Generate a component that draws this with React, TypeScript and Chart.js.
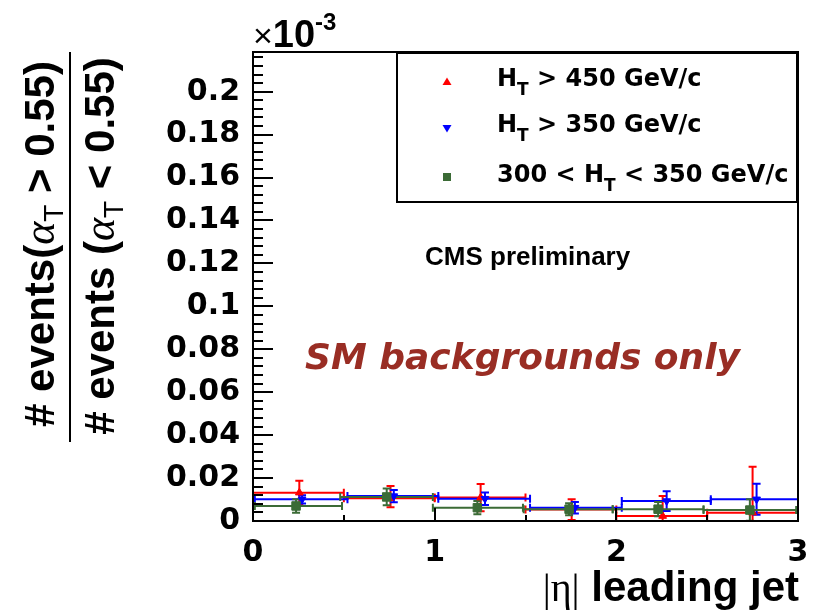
import React, { useEffect, useRef } from "react";
import { Chart, registerables } from "chart.js";

Chart.register(...registerables);

// ---------- data ----------
const xTickValues = [0, 1, 2, 3];
const yTickValues = [0, 0.02, 0.04, 0.06, 0.08, 0.1, 0.12, 0.14, 0.16, 0.18, 0.2];
const xMinorTicks = [0.5, 1, 1.5, 2, 2.5];
const yMinorStep = 0.004;
const yMax = 0.2185;

const legendLabels = ["H_T > 450 GeV/c", "H_T > 350 GeV/c", "300 < H_T < 350 GeV/c"];

// H_T > 450 GeV/c (red, up triangles)
const redX = [0.255, 0.757, 1.253, 1.754, 2.255, 2.75];
const redXLow = [0.0, 0.5, 1.0, 1.5, 2.0, 2.5];
const redXHigh = [0.5, 1.0, 1.5, 2.0, 2.5, 3.0];
const redY = [0.0132, 0.0106, 0.0109, 0.0053, 0.0023, 0.0039];
const redErrUp = [0.0056, 0.0057, 0.0063, 0.0048, 0.0093, 0.0214];
const redErrDown = [0.0056, 0.0042, 0.0063, 0.0048, 0.0023, 0.0039];

// H_T > 350 GeV/c (blue, down triangles)
const blueX = [0.27, 0.775, 1.277, 1.772, 2.277, 2.772];
const blueXLow = [0.01, 0.52, 1.02, 1.525, 2.03, 2.52];
const blueXHigh = [0.52, 1.02, 1.525, 2.03, 2.52, 3.0];
const blueY = [0.0101, 0.0116, 0.0104, 0.0062, 0.0093, 0.0101];
const blueErr = [0.0019, 0.0029, 0.0029, 0.0027, 0.0046, 0.0072];

// 300 < H_T < 350 GeV/c (green, squares)
const greenX = [0.237, 0.736, 1.235, 1.74, 2.23, 2.735];
const greenXLow = [0.01, 0.48, 0.99, 1.49, 1.98, 2.48];
const greenXHigh = [0.49, 0.99, 1.486, 1.98, 2.48, 2.99];
const greenY = [0.007, 0.0112, 0.0062, 0.0055, 0.0055, 0.0051];
const greenErr = [0.0031, 0.0039, 0.0031, 0.0028, 0.0033, 0.005];

const RED = "#ff0000";
const BLUE = "#0000ff";
const GREEN = "#3b6b36";

const ARIAL = "'Liberation Sans', Arial, Helvetica, sans-serif";
const DEJAVU = "'DejaVu Sans', sans-serif";
const SERIF = "'Liberation Serif', 'Times New Roman', serif";

function mk(xs: number[], lo: number[], hi: number[], ys: number[], up: number[], down: number[]) {
  return xs.map((x, i) => ({ x, y: ys[i], xLow: lo[i], xHigh: hi[i], up: up[i], down: down[i] }));
}

type Seg = { t: string; font: string; dy?: number };
function drawRich(ctx: CanvasRenderingContext2D, segs: Seg[], x: number, y: number, align: "left" | "center" | "right") {
  ctx.textAlign = "left";
  ctx.textBaseline = "alphabetic";
  let total = 0;
  const ws = segs.map((s) => {
    ctx.font = s.font;
    const w = ctx.measureText(s.t).width;
    total += w;
    return w;
  });
  let cx = align === "left" ? x : align === "center" ? x - total / 2 : x - total;
  segs.forEach((s, i) => {
    ctx.font = s.font;
    ctx.fillText(s.t, cx, y + (s.dy || 0));
    cx += ws[i];
  });
}

function hSegs(label: string, size: number, subSize: number, subDy: number): Seg[] {
  const parts = label.split("_T");
  const main = `bold ${size}px ${DEJAVU}`;
  return [
    { t: parts[0], font: main },
    { t: "T", font: `bold ${subSize}px ${DEJAVU}`, dy: subDy },
    { t: parts[1], font: main },
  ];
}

const errorBarPlugin = {
  id: "errorBars",
  beforeDatasetsDraw(chart: any) {
    const { ctx } = chart;
    const x = chart.scales.x;
    const y = chart.scales.y;
    ctx.save();
    ctx.lineWidth = 2;
    chart.data.datasets.forEach((ds: any) => {
      ctx.strokeStyle = ds.borderColor;
      ds.data.forEach((p: any) => {
        const px = x.getPixelForValue(p.x);
        const py = y.getPixelForValue(p.y);
        const xl = x.getPixelForValue(p.xLow);
        const xh = x.getPixelForValue(p.xHigh);
        const yt = y.getPixelForValue(p.y + p.up);
        const yb = y.getPixelForValue(Math.max(0, p.y - p.down));
        const cap = 4;
        ctx.beginPath();
        ctx.moveTo(xl, py);
        ctx.lineTo(xh, py);
        ctx.moveTo(xl, py - cap);
        ctx.lineTo(xl, py + cap);
        ctx.moveTo(xh, py - cap);
        ctx.lineTo(xh, py + cap);
        ctx.moveTo(px, yt);
        ctx.lineTo(px, yb);
        ctx.moveTo(px - cap, yt);
        ctx.lineTo(px + cap, yt);
        ctx.moveTo(px - cap, yb);
        ctx.lineTo(px + cap, yb);
        ctx.stroke();
      });
    });
    ctx.restore();
  },
};

const framePlugin = {
  id: "frame",
  afterDraw(chart: any) {
    const { ctx, chartArea } = chart;
    const { left, right, top, bottom } = chartArea;
    const x = chart.scales.x;
    const y = chart.scales.y;
    ctx.save();
    ctx.strokeStyle = "#000";
    ctx.lineWidth = 2;
    ctx.strokeRect(left, top, right - left, bottom - top);
    ctx.beginPath();
    const n = Math.floor(yMax / yMinorStep + 1e-6);
    for (let i = 1; i <= n; i++) {
      const v = i * yMinorStep;
      const py = Math.round(y.getPixelForValue(v));
      const len = i % 5 === 0 ? 20 : 10;
      ctx.moveTo(left, py);
      ctx.lineTo(left + len, py);
    }
    xMinorTicks.forEach((v) => {
      const px = Math.round(x.getPixelForValue(v));
      const len = Number.isInteger(v) ? 13 : 6;
      ctx.moveTo(px, bottom);
      ctx.lineTo(px, bottom - len);
    });
    ctx.stroke();
    ctx.restore();
  },
};

const textPlugin = {
  id: "texts",
  afterDraw(chart: any) {
    const { ctx } = chart;
    ctx.save();
    ctx.fillStyle = "#000";

    // x10^-3
    drawRich(
      ctx,
      [
        { t: "\u00d7", font: `34px ${ARIAL}` },
        { t: "10", font: `bold 38px ${ARIAL}` },
        { t: "-3", font: `bold 24px ${ARIAL}`, dy: -17 },
      ],
      253,
      47,
      "left"
    );

    // y title (fraction)
    const big = `bold 42px ${ARIAL}`;
    const alpha = `italic 44px ${SERIF}`;
    const sub = `28px ${ARIAL}`;
    ctx.save();
    ctx.translate(54, 244);
    ctx.rotate(-Math.PI / 2);
    drawRich(
      ctx,
      [
        { t: "# events(", font: big },
        { t: "\u03b1", font: alpha },
        { t: "T", font: sub, dy: 9 },
        { t: " > 0.55)", font: big },
      ],
      0,
      0,
      "center"
    );
    ctx.restore();
    ctx.save();
    ctx.translate(114, 246);
    ctx.rotate(-Math.PI / 2);
    drawRich(
      ctx,
      [
        { t: "# events (", font: big },
        { t: "\u03b1", font: alpha },
        { t: "T", font: sub, dy: 9 },
        { t: " < 0.55)", font: big },
      ],
      0,
      0,
      "center"
    );
    ctx.restore();
    ctx.fillRect(69, 52, 2, 390);

    // x title
    drawRich(
      ctx,
      [
        { t: "|\u03b7|", font: `40px ${SERIF}` },
        { t: " leading jet", font: `bold 42px ${ARIAL}` },
      ],
      799,
      601,
      "right"
    );

    // CMS preliminary
    drawRich(ctx, [{ t: "CMS preliminary", font: `bold 26px ${ARIAL}` }], 425, 265, "left");

    // SM backgrounds only
    ctx.fillStyle = "#992d24";
    drawRich(ctx, [{ t: "SM backgrounds only", font: `italic bold 36px ${DEJAVU}` }], 305, 369, "left");

    // legend
    ctx.fillStyle = "#000";
    ctx.strokeStyle = "#000";
    ctx.lineWidth = 2;
    ctx.strokeRect(397, 53, 400, 149);
    const rows = [82, 128, 177];
    const colors = [RED, BLUE, GREEN];
    rows.forEach((ry, i) => {
      ctx.fillStyle = colors[i];
      ctx.beginPath();
      if (i === 0) {
        ctx.moveTo(447, ry - 4.5);
        ctx.lineTo(451.5, ry + 3);
        ctx.lineTo(442.5, ry + 3);
      } else if (i === 1) {
        ctx.moveTo(447, ry + 4.5);
        ctx.lineTo(451.5, ry - 3);
        ctx.lineTo(442.5, ry - 3);
      } else {
        ctx.rect(443, ry - 4, 8, 8);
      }
      ctx.closePath();
      ctx.fill();
      ctx.fillStyle = "#000";
      drawRich(ctx, hSegs(legendLabels[i], 24, 17, 9), 497, ry + 4 + (i === 2 ? 1 : 0), "left");
    });

    ctx.restore();
  },
};

export default function App() {
  const ref = useRef<HTMLCanvasElement | null>(null);

  useEffect(() => {
    document.body.style.margin = "0";
    const canvas = ref.current;
    if (!canvas) return;
    const chart = new Chart(canvas, {
      type: "scatter",
      data: {
        datasets: [
          {
            label: legendLabels[0],
            data: mk(redX, redXLow, redXHigh, redY, redErrUp, redErrDown),
            backgroundColor: RED,
            borderColor: RED,
            pointStyle: "triangle",
            pointRadius: 4.5,
            pointBorderWidth: 1,
            order: 2,
            clip: false,
          } as any,
          {
            label: legendLabels[1],
            data: mk(blueX, blueXLow, blueXHigh, blueY, blueErr, blueErr),
            backgroundColor: BLUE,
            borderColor: BLUE,
            pointStyle: "triangle",
            pointRotation: 180,
            pointRadius: 4.5,
            pointBorderWidth: 1,
            order: 1,
            clip: false,
          } as any,
          {
            label: legendLabels[2],
            data: mk(greenX, greenXLow, greenXHigh, greenY, greenErr, greenErr),
            backgroundColor: GREEN,
            borderColor: GREEN,
            pointStyle: "rect",
            pointRadius: 6,
            pointBorderWidth: 1,
            order: 0,
            clip: false,
          } as any,
        ],
      },
      options: {
        animation: false,
        responsive: false,
        events: [],
        layout: { padding: { top: 52, right: 19, left: 0, bottom: 0 } },
        plugins: { legend: { display: false }, tooltip: { enabled: false } },
        scales: {
          x: {
            type: "linear",
            min: 0,
            max: 3,
            afterBuildTicks: (s: any) => {
              s.ticks = xTickValues.map((v) => ({ value: v }));
            },
            afterFit: (s: any) => {
              s.height = 89;
              s.paddingLeft = 0;
              s.paddingRight = 0;
            },
            grid: { display: false, drawTicks: false, tickLength: 0 },
            border: { display: false },
            ticks: {
              font: { family: DEJAVU, size: 30, weight: "bold" },
              color: "#000",
              padding: 14,
              maxRotation: 0,
              autoSkip: false,
              callback: (v: any) => String(v),
            },
          },
          y: {
            type: "linear",
            min: 0,
            max: yMax,
            afterBuildTicks: (s: any) => {
              s.ticks = yTickValues.map((v) => ({ value: v }));
            },
            afterFit: (s: any) => {
              s.width = 253;
              s.paddingTop = 0;
              s.paddingBottom = 0;
            },
            grid: { display: false, drawTicks: false, tickLength: 0 },
            border: { display: false },
            ticks: {
              font: { family: DEJAVU, size: 30, weight: "bold" },
              color: "#000",
              padding: 13,
              autoSkip: false,
              callback: (v: any) => String(Number(Number(v).toFixed(3))),
            },
          },
        },
      } as any,
      plugins: [errorBarPlugin, framePlugin, textPlugin],
    });
    return () => chart.destroy();
  }, []);

  return (
    <div style={{ width: 817, height: 610, position: "relative", background: "#fff" }}>
      <canvas ref={ref} width={817} height={610} style={{ display: "block", width: 817, height: 610 }} />
    </div>
  );
}
